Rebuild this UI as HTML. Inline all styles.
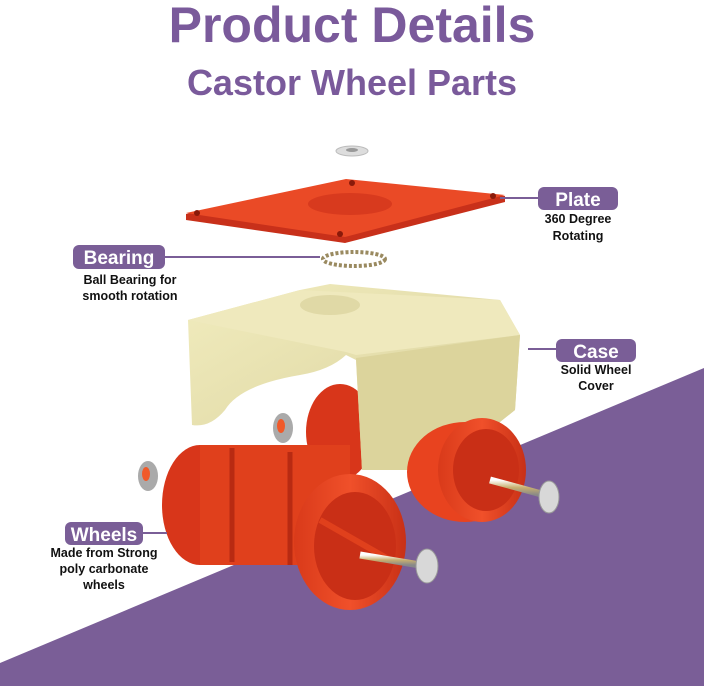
<!DOCTYPE html>
<html><head><meta charset="utf-8"><style>
html,body{margin:0;padding:0;background:#fff;}
svg{display:block;}
text{font-family:"Liberation Sans",sans-serif;font-weight:bold;}
</style></head><body>
<svg width="704" height="686" viewBox="0 0 704 686" xmlns="http://www.w3.org/2000/svg">
<defs>
<linearGradient id="red" x1="0" y1="0" x2="1" y2="0"><stop offset="0" stop-color="#d93a1a"/><stop offset="0.5" stop-color="#f0502a"/><stop offset="1" stop-color="#c83016"/></linearGradient>
<linearGradient id="cream" x1="0" y1="0" x2="1" y2="1"><stop offset="0" stop-color="#f1ecbe"/><stop offset="1" stop-color="#d8d09a"/></linearGradient>
<linearGradient id="pin" x1="0" y1="0" x2="0" y2="1"><stop offset="0" stop-color="#fff"/><stop offset="0.5" stop-color="#c8b070"/><stop offset="1" stop-color="#888"/></linearGradient>
</defs>
<polygon points="0,663 704,368 704,686 0,686" fill="#7a5e97"/>
<text x="352" y="42" font-size="50" fill="#7a5a9b" text-anchor="middle">Product Details</text>
<text x="352" y="95" font-size="36" fill="#7a5a9b" text-anchor="middle">Castor Wheel Parts</text>

<ellipse cx="352" cy="151" rx="16" ry="5" fill="#ddd" stroke="#bbb"/>
<ellipse cx="352" cy="150" rx="6" ry="2" fill="#999"/>
<polygon points="186,214 346,180 505,196 505,202 345,243 186,220" fill="#c8301a"/>
<polygon points="186,213 346,179 505,195 345,237" fill="#ea4a26"/>
<ellipse cx="350" cy="204" rx="42" ry="11" fill="#d83a1e"/>
<circle cx="197" cy="213" r="3" fill="#8a1a0a"/><circle cx="340" cy="234" r="3" fill="#8a1a0a"/><circle cx="493" cy="196" r="3" fill="#8a1a0a"/><circle cx="352" cy="183" r="3" fill="#8a1a0a"/>
<ellipse cx="354" cy="259" rx="31" ry="7" fill="none" stroke="#9a8a60" stroke-width="4" stroke-dasharray="3 2"/>
<!-- back wheel (behind case) -->
<ellipse cx="340" cy="432" rx="34" ry="48" fill="#d8361a"/>
<!-- case -->
<path d="M188,320 L300,290 L330,284 L500,300 L520,335 L515,410 L440,470 L362,470 L356,360 L346,355 Q330,370 300,375 Q240,385 225,410 Q210,428 192,425 Z" fill="url(#cream)"/>
<path d="M188,320 L300,290 L500,300 L520,335 L356,355 L346,352 Z" fill="#efe9bd"/>
<ellipse cx="330" cy="305" rx="30" ry="10" fill="#e0d9a6"/>
<path d="M356,358 L520,335 L515,410 L440,470 L362,470 Z" fill="#dcd49c"/>
<!-- right wheel group -->
<ellipse cx="465" cy="472" rx="58" ry="50" fill="#e8431f"/>
<ellipse cx="482" cy="470" rx="44" ry="52" fill="url(#red)"/>
<ellipse cx="486" cy="470" rx="33" ry="41" fill="#c92f16"/>
<line x1="490" y1="480" x2="545" y2="495" stroke="url(#pin)" stroke-width="7"/>
<ellipse cx="549" cy="497" rx="10" ry="16" fill="#d8d8d8" stroke="#999"/>
<!-- front wheel group -->
<ellipse cx="200" cy="505" rx="38" ry="60" fill="#d8361a"/>
<rect x="200" y="445" width="150" height="120" fill="#e0401c"/>
<path d="M232,448 L232,562" stroke="#b82a12" stroke-width="5"/>
<path d="M290,452 L290,565" stroke="#b82a12" stroke-width="5"/>
<ellipse cx="350" cy="542" rx="56" ry="68" fill="url(#red)"/>
<ellipse cx="355" cy="546" rx="41" ry="54" fill="#c92f16"/>
<path d="M320,520 L390,560" stroke="#e0401c" stroke-width="6"/>
<line x1="360" y1="555" x2="420" y2="565" stroke="url(#pin)" stroke-width="7"/>
<ellipse cx="427" cy="566" rx="11" ry="17" fill="#d8d8d8" stroke="#999"/>
<ellipse cx="148" cy="476" rx="10" ry="15" fill="#aaa"/><ellipse cx="146" cy="474" rx="4" ry="7" fill="#f05a2a"/>
<ellipse cx="283" cy="428" rx="10" ry="15" fill="#aaa"/><ellipse cx="281" cy="426" rx="4" ry="7" fill="#f05a2a"/>

<g stroke="#7a5e97" stroke-width="2">
<line x1="500" y1="198" x2="540" y2="198"/>
<line x1="164" y1="257" x2="320" y2="257"/>
<line x1="528" y1="349" x2="556" y2="349"/>
<line x1="143" y1="533" x2="167" y2="533"/>
</g>
<g fill="#7a5e97">
<rect x="538" y="187" width="80" height="23" rx="6"/>
<rect x="73" y="245" width="92" height="24" rx="6"/>
<rect x="556" y="339" width="80" height="23" rx="6"/>
<rect x="65" y="522" width="78" height="23" rx="6"/>
</g>
<g fill="#fff" font-size="19" text-anchor="middle">
<text x="578" y="206">Plate</text>
<text x="119" y="264">Bearing</text>
<text x="596" y="358">Case</text>
<text x="104" y="541">Wheels</text>
</g>
<g fill="#111" font-size="12.5" text-anchor="middle">
<text x="578" y="223">360 Degree</text>
<text x="578" y="240">Rotating</text>
<text x="130" y="284">Ball Bearing for</text>
<text x="130" y="300">smooth rotation</text>
<text x="596" y="374">Solid Wheel</text>
<text x="596" y="390">Cover</text>
<text x="104" y="557">Made from Strong</text>
<text x="104" y="573">poly carbonate</text>
<text x="104" y="589">wheels</text>
</g>
</svg>
</body></html>
